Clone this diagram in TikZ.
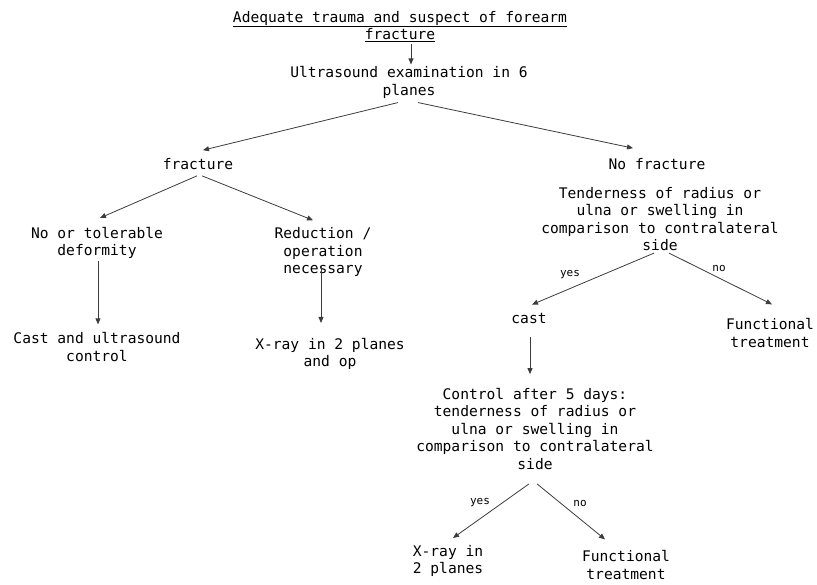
\documentclass[tikz,border=0pt]{standalone}
\usepackage{fontspec}
\newfontfamily\monofont{DejaVu Sans Mono}
\usetikzlibrary{arrows.meta, positioning, calc}
\definecolor{linegray}{RGB}{60,60,60}

\begin{document}
\begin{tikzpicture}[
  x=1pt, y=-1pt,
  txt/.style={align=center, inner sep=2pt, font=\monofont\fontsize{14.6}{17.5}\selectfont},
  lbl/.style={inner sep=0pt, font=\monofont\fontsize{11}{13}\selectfont},
  arr/.style={-{Triangle[length=6pt, width=5pt]}, line width=0.8pt, linegray}
]
  \useasboundingbox (0,0) rectangle (817,584);
  \node[txt] (title) at (400,26.5) {\underline{Adequate trauma and suspect of forearm}\\\underline{fracture}};
  \node[txt] (us) at (409,82.5) {Ultrasound examination in 6\\planes};
  \node[txt] (frac) at (198,164) {fracture};
  \node[txt] (nofrac) at (657,164) {No fracture};
  \node[txt] (tend) at (660,219) {Tenderness of radius or\\ulna or swelling in\\comparison to contralateral\\side};
  \node[txt] (def) at (97,243) {No or tolerable\\deformity};
  \node[txt] (red) at (323,252) {Reduction /\\operation\\necessary};
  \node[txt] (cau) at (97,347) {Cast and ultrasound\\control};
  \node[txt] (xr1) at (330,354) {X-ray in 2 planes\\and op};
  \node[txt] (cast) at (529,318) {cast};
  \node[txt] (fun1) at (770,333) {Functional\\treatment};
  \node[txt] (ctrl) at (535,429) {Control after 5 days:\\tenderness of radius or\\ulna or swelling in\\comparison to contralateral\\side};
  \node[txt] (xr2) at (448,561) {X-ray in\\2 planes};
  \node[txt] (fun2) at (626,565) {Functional\\treatment};
  \node[lbl] (yes1) at (570,275) {yes};
  \node[lbl] (no1) at (719,268) {no};
  \node[lbl] (yes2) at (480,503) {yes};
  \node[lbl] (no2) at (580,503) {no};

  \draw[arr] ([xshift=11pt]title.south) -- ([xshift=2pt]us.north);
  \draw[arr] ([xshift=-11pt,yshift=-2pt]us.south) -- ([xshift=5pt,yshift=6pt]frac.north);
  \draw[arr] ([xshift=9pt,yshift=-2pt]us.south) -- ([xshift=-24pt,yshift=8pt]nofrac.north);
  \draw[arr] ([xshift=-1pt,yshift=-4pt]frac.south) -- ([xshift=3pt,yshift=7pt]def.north);
  \draw[arr] ([xshift=4pt,yshift=-4pt]frac.south) -- ([xshift=-10pt,yshift=5pt]red.north);
  \draw[arr] ([xshift=1pt]def.south) -- ([xshift=1pt,yshift=6pt]cau.north);
  \draw[arr] ([xshift=-2pt,yshift=14pt]red.south) -- ([xshift=-9pt,yshift=13pt]xr1.north);
  \draw[arr] ([xshift=-6pt]tend.south) -- ([xshift=3pt,yshift=6pt]cast.north);
  \draw[arr] ([xshift=9pt]tend.south) -- ([xshift=2pt,yshift=12pt]fun1.north);
  \draw[arr] ([xshift=1pt,yshift=-12pt]cast.south) -- ([xshift=-5pt,yshift=12pt]ctrl.north);
  \draw[arr] ([xshift=-6pt,yshift=-12pt]ctrl.south) -- ([xshift=5pt,yshift=5pt]xr2.north);
  \draw[arr] ([xshift=2pt,yshift=-12pt]ctrl.south) -- ([xshift=-21pt,yshift=9pt]fun2.north);
\end{tikzpicture}
\end{document}
